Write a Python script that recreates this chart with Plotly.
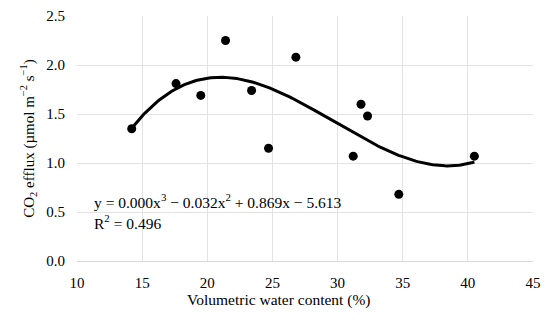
import numpy as np
import plotly.graph_objects as go

vwc = [14.2, 17.6, 19.5, 21.4, 23.4, 24.7, 26.8, 31.2, 31.8, 32.3, 34.7, 40.5]
efflux = [1.35, 1.81, 1.69, 2.25, 1.74, 1.15, 2.08, 1.07, 1.60, 1.48, 0.68, 1.07]
x_ticks = [10, 15, 20, 25, 30, 35, 40, 45]
y_ticks = [0.0, 0.5, 1.0, 1.5, 2.0, 2.5]
equation = "y = 0.000x<sup>3</sup> − 0.032x<sup>2</sup> + 0.869x − 5.613"
r2_text = "R<sup>2</sup> = 0.496"
x_title = "Volumetric water content (%)"
y_title = "CO<sub>2</sub> efflux (µmol m<sup>−2</sup> s<sup>−1</sup>)"

coef = np.polyfit(vwc, efflux, 3)
xf = np.linspace(min(vwc), max(vwc), 200)
yf = np.polyval(coef, xf)

font = "Liberation Serif, serif"
fig = go.Figure()
fig.add_trace(go.Scatter(x=xf, y=yf, mode="lines", line=dict(color="black", width=3), hoverinfo="skip"))
fig.add_trace(go.Scatter(x=vwc, y=efflux, mode="markers", marker=dict(color="black", size=9)))

fig.add_annotation(x=0.033, y=0.245, xref="paper", yref="paper", text=equation, showarrow=False,
                   xanchor="left", yanchor="middle", font=dict(family=font, size=15.5, color="black"))
fig.add_annotation(x=0.033, y=0.16, xref="paper", yref="paper", text=r2_text, showarrow=False,
                   xanchor="left", yanchor="middle", font=dict(family=font, size=15.5, color="black"))
fig.add_annotation(x=0.443, y=-0.16, xref="paper", yref="paper", text=x_title, showarrow=False,
                   xanchor="center", yanchor="middle", font=dict(family=font, size=15.5, color="black"))

# page body has an 8px margin, so the figure is sized/offset to land the plot where the reference has it
fig.update_layout(
    width=542, height=318,
    margin=dict(l=69, r=17, t=8, b=65),
    paper_bgcolor="white", plot_bgcolor="white",
    showlegend=False,
    font=dict(family=font, size=15, color="black"),
    xaxis=dict(range=[10, 45], tickvals=x_ticks, ticktext=[str(v) for v in x_ticks],
               showgrid=True, gridcolor="#e3e3e3", gridwidth=1, zeroline=False,
               showline=True, linecolor="#d9d9d9", ticks="outside", ticklen=8, tickcolor="rgba(0,0,0,0)",
               tickfont=dict(family=font, size=15, color="black"), automargin=False),
    yaxis=dict(range=[0, 2.5], tickvals=y_ticks, ticktext=[f"{v:.1f}" for v in y_ticks],
               showgrid=True, gridcolor="#e3e3e3", gridwidth=1, zeroline=False,
               showline=False, ticks="outside", ticklen=8, tickcolor="rgba(0,0,0,0)",
               tickfont=dict(family=font, size=15, color="black"), automargin=False,
               title=dict(text=y_title, font=dict(family=font, size=15, color="black"), standoff=8)),
)
fig.write_html("out.html")
